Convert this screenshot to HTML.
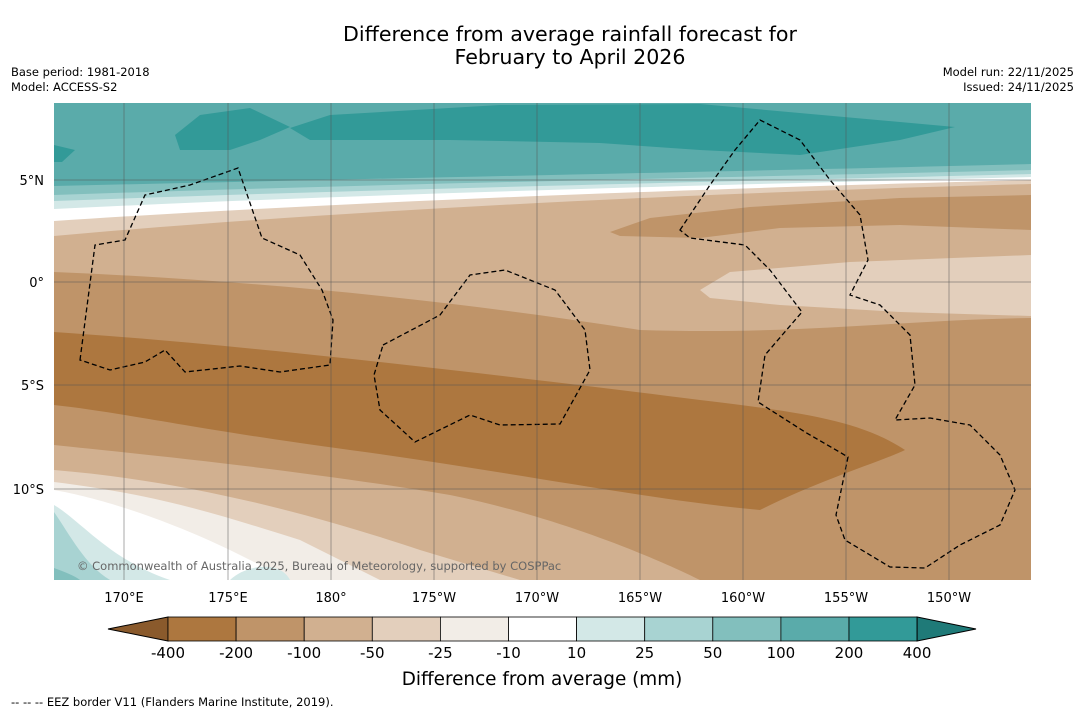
<!DOCTYPE html>
<html><head><meta charset="utf-8"><style>
body{margin:0;background:#fff;font-family:"Liberation Sans",sans-serif}
svg text{font-family:"DejaVu Sans","Liberation Sans",sans-serif}
</style></head><body>
<svg width="1085" height="713" viewBox="0 0 1085 713">
<text x="570" y="41" font-size="20.6" text-anchor="middle">Difference from average rainfall forecast for</text>
<text x="570" y="64" font-size="20.6" text-anchor="middle">February to April 2026</text>
<text x="11" y="76" font-size="11.5">Base period: 1981-2018</text>
<text x="11" y="91" font-size="11.5">Model: ACCESS-S2</text>
<text x="1074" y="76" font-size="11.5" text-anchor="end">Model run: 22/11/2025</text>
<text x="1074" y="91" font-size="11.5" text-anchor="end">Issued: 24/11/2025</text>
<defs><clipPath id="mc"><rect x="54" y="103" width="977" height="477"/></clipPath></defs>
<g clip-path="url(#mc)">
<rect x="54" y="103" width="977" height="477" fill="#d1b090"/>
<path fill="#e3cfbc" d="M54,103H1031V184C800,190 400,205 54,236Z"/>
<path fill="#ffffff" d="M54,103H1031V180C800,186 400,198 54,221Z"/>
<path fill="#d3e8e7" d="M54,103H1031V177C800,183 400,192 54,209Z"/>
<path fill="#a8d3d2" d="M54,103H1031V174C800,180 400,188 54,201Z"/>
<path fill="#82bfbd" d="M54,103H1031V170C800,176 400,183 54,195Z"/>
<path fill="#5aabaa" d="M54,103H1031V164C800,170 400,178 54,186Z"/>
<path fill="#329a98" d="M290,128L330,115L500,105L700,104L955,127L900,140L800,155L700,150L600,143L450,140L310,140Z"/>
<path fill="#329a98" d="M175,135L200,115L250,108L290,127L260,140L230,150L180,150Z"/>
<path fill="#329a98" d="M54,145L75,150L62,162L54,162Z"/>
<path fill="#bf9469" d="M610,232L650,218L750,207L900,198L1031,195V230L900,225L780,228L700,238L620,236Z"/>
<path fill="#e3cfbc" d="M700,290L730,272L850,262L1031,255V316L900,312L780,305L710,298Z"/>
<path fill="#bf9469" d="M54,272C250,280 450,300 640,330C800,335 900,320 1031,318V580H700C650,555 550,515 450,495C300,470 150,455 54,445Z"/>
<path fill="#ad773f" d="M54,332C250,345 500,375 700,400C800,412 860,420 905,450C880,462 820,480 760,510C650,500 500,470 350,450C200,430 120,412 54,405Z"/>
<path fill="#e3cfbc" d="M54,470C200,482 330,520 420,550L520,580H54Z"/>
<path fill="#f2ede7" d="M54,482C160,495 220,515 300,540L380,580H54Z"/>
<path fill="#ffffff" d="M54,490C100,498 170,520 240,555L290,580H54Z"/>
<path fill="#d3e8e7" d="M54,505C80,520 110,560 170,580H54Z"/>
<path fill="#d3e8e7" d="M230,580C245,565 280,560 290,580Z"/>
<path fill="#a8d3d2" d="M54,512C70,535 85,565 110,580H54Z"/>
<path fill="#82bfbd" d="M54,568C65,572 75,576 80,580H54Z"/>
<g stroke="#000" stroke-width="1.3" stroke-dasharray="5,3" fill="none">
<path d="M80,360L95,245L125,240L145,195L190,185L238,168L262,238L300,255L322,290L333,320L330,365L280,372L240,366L185,372L165,350L145,362L110,370Z"/>
<path d="M383,345L440,315L470,275L505,270L555,290L585,330L590,370L560,424L500,425L470,415L415,442L380,410L374,375Z"/>
<path d="M680,230L710,185L735,150L760,120L800,140L830,180L860,215L868,260L850,295L880,305L910,335L915,385L895,420L930,418L970,425L1000,455L1015,490L1000,525L960,545L925,568L890,567L845,540L836,515L848,457L805,432L758,402L765,355L802,312L770,270L745,245L690,238Z"/>
</g>
<g stroke="#555" stroke-width="0.5">
<line x1="124" y1="103" x2="124" y2="580"/><line x1="228" y1="103" x2="228" y2="580"/><line x1="331" y1="103" x2="331" y2="580"/><line x1="434" y1="103" x2="434" y2="580"/><line x1="537" y1="103" x2="537" y2="580"/><line x1="640" y1="103" x2="640" y2="580"/><line x1="743" y1="103" x2="743" y2="580"/><line x1="846" y1="103" x2="846" y2="580"/><line x1="949" y1="103" x2="949" y2="580"/>
<line x1="54" y1="180" x2="1031" y2="180"/><line x1="54" y1="282" x2="1031" y2="282"/><line x1="54" y1="385" x2="1031" y2="385"/><line x1="54" y1="489" x2="1031" y2="489"/>
</g>
<text x="77" y="570" font-size="11.5" fill="#666">© Commonwealth of Australia 2025, Bureau of Meteorology, supported by COSPPac</text>
</g>
<g font-size="13" text-anchor="middle">
<text x="124" y="602">170°E</text><text x="228" y="602">175°E</text><text x="331" y="602">180°</text><text x="434" y="602">175°W</text><text x="537" y="602">170°W</text><text x="640" y="602">165°W</text><text x="743" y="602">160°W</text><text x="846" y="602">155°W</text><text x="949" y="602">150°W</text>
</g>
<g font-size="13" text-anchor="end">
<text x="44" y="185">5°N</text><text x="44" y="287">0°</text><text x="44" y="390">5°S</text><text x="44" y="494">10°S</text>
</g>
<g id="cbar"></g>
<text x="542" y="685" font-size="18.4" text-anchor="middle">Difference from average (mm)</text>
<text x="11" y="706" font-size="11.5">--  --  -- EEZ border V11 (Flanders Marine Institute, 2019).</text>
</svg>
<script>
const levels=[-400,-200,-100,-50,-25,-10,10,25,50,100,200,400];
const colors=["#ad773f","#bf9469","#d1b090","#e3cfbc","#f2ede7","#ffffff","#d3e8e7","#a8d3d2","#82bfbd","#5aabaa","#329a98"];
const NS="http://www.w3.org/2000/svg";
const g=document.getElementById('cbar');
const x0=168,w=68.1,y=617,h=24;
function mk(t,a){const e=document.createElementNS(NS,t);for(const k in a)e.setAttribute(k,a[k]);g.appendChild(e);return e;}
const lo=mk('polygon',{points:`108,629 ${x0},${y} ${x0},${y+h}`,fill:'#8a5a2c',stroke:'#000','stroke-width':1});


colors.forEach((c,i)=>{const r=mk('rect',{x:x0+i*w,y:y,width:w,height:h,fill:c,stroke:'#000','stroke-width':0.8});

});
const xe=x0+colors.length*w;
const hi=mk('polygon',{points:`${xe},${y} 976,629 ${xe},${y+h}`,fill:'#1f7a78',stroke:'#000','stroke-width':1});


levels.forEach((v,i)=>{const t=mk('text',{x:x0+i*w,y:658,'font-size':15,'text-anchor':'middle'});t.textContent=v;

});
</script>
</body></html>
